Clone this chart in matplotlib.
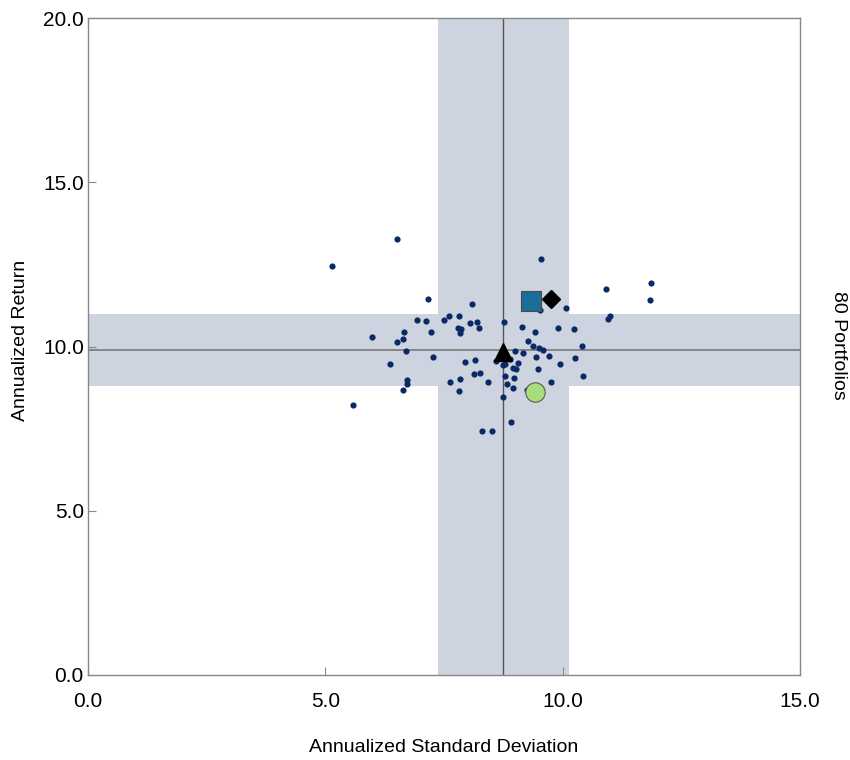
import matplotlib
matplotlib.use("Agg")
import matplotlib.pyplot as plt

# risk / return of each portfolio
std_dev = [5.14, 6.50, 7.17, 6.94, 7.13, 6.65, 7.22, 5.98, 6.63, 6.52,
           6.69, 7.27, 6.36, 6.73, 6.73, 6.64, 5.58, 8.08, 7.50, 7.60,
           7.82, 8.04, 8.19, 8.24, 7.79, 7.85, 7.84, 7.95, 8.15, 7.63,
           7.84, 8.13, 8.26, 8.42, 7.81, 8.31, 9.54, 10.92, 11.87, 11.85,
           10.08, 9.52, 10.95, 11.00, 8.76, 9.14, 9.42, 9.90, 10.24, 9.26,
           9.38, 9.50, 9.59, 10.41, 9.00, 9.16, 9.43, 9.72, 10.27, 8.59,
           8.74, 8.78, 9.06, 8.95, 9.01, 9.49, 9.95, 8.78, 8.97, 10.43,
           8.83, 8.95, 9.75, 9.25, 8.75, 8.92, 8.51, 8.89]
ann_return = [12.44, 13.28, 11.45, 10.80, 10.79, 10.45, 10.45, 10.29, 10.24, 10.13,
              9.87, 9.68, 9.47, 8.99, 8.86, 8.68, 8.23, 11.29, 10.81, 10.93,
              10.94, 10.72, 10.76, 10.56, 10.56, 10.52, 10.41, 9.53, 9.59, 8.91,
              9.01, 9.16, 9.18, 8.93, 8.65, 7.43, 12.66, 11.76, 11.93, 11.42,
              11.18, 11.12, 10.84, 10.94, 10.74, 10.58, 10.44, 10.55, 10.54, 10.17,
              10.01, 9.96, 9.90, 10.02, 9.85, 9.80, 9.69, 9.71, 9.66, 9.57,
              9.44, 9.47, 9.49, 9.34, 9.31, 9.32, 9.47, 9.10, 9.04, 9.09,
              8.87, 8.75, 8.93, 8.67, 8.46, 7.70, 7.42, 9.62]

# median lines and interquartile bands
med_std, med_ret = 8.74, 9.89
std_band = (7.37, 10.13)
ret_band = (8.80, 10.99)

# benchmark markers
square_pt = (9.33, 11.38)
diamond_pt = (9.75, 11.45)
triangle_pt = (8.74, 9.83)
circle_pt = (9.42, 8.61)

plt.rcParams['font.family'] = ['Liberation Sans', 'DejaVu Sans']

fig = plt.figure(figsize=(8.5, 7.6), dpi=100)
ax = fig.add_axes([88 / 850, 1 - 675 / 760, 712 / 850, 657 / 760])

band_color = '#cdd4df'
ax.axvspan(*std_band, color=band_color, lw=0, zorder=0)
ax.axhspan(*ret_band, color=band_color, lw=0, zorder=0)
ax.axvline(med_std, color='#555555', lw=1.0, zorder=1)
ax.axhline(med_ret, color='#808080', lw=1.3, zorder=1)

ax.scatter(std_dev, ann_return, s=20, color='#0a2a66', lw=0, zorder=3)

ax.plot(*square_pt, marker='s', ms=14, mfc='#1b6e9a', mec='#4a4a4a', mew=0.8, zorder=4)
ax.plot(*diamond_pt, marker='D', ms=9, mfc='black', mec='black', zorder=4)
ax.plot(*triangle_pt, marker='^', ms=13, mfc='black', mec='black', zorder=4)
ax.plot(*circle_pt, marker='o', ms=14, mfc='#a8de7a', mec='#5a5a5a', mew=0.8, zorder=4)

ax.set_xlim(0, 15)
ax.set_ylim(0, 20)
ax.set_xticks([0, 5, 10, 15])
ax.set_yticks([0, 5, 10, 15, 20])
ax.set_xticklabels(['0.0', '5.0', '10.0', '15.0'])
ax.set_yticklabels(['0.0', '5.0', '10.0', '15.0', '20.0'])
ax.tick_params(direction='in', length=6, color='#888888', labelsize=15)
ax.tick_params(axis='x', pad=12)
ax.tick_params(axis='y', pad=3)
for sp in ax.spines.values():
    sp.set_color('#888888')
    sp.set_linewidth(1.0)

# axis titles placed in figure coordinates
fig.text(444 / 850, 1 - 747 / 760, 'Annualized Standard Deviation', fontsize=14,
         ha='center', va='center')
fig.text(21 / 850, 1 - 340 / 760, 'Annualized Return', fontsize=14,
         rotation=90, ha='center', va='center')
fig.text(838 / 850, 1 - 345 / 760, '80 Portfolios', rotation=-90, fontsize=14,
         ha='center', va='center')

fig.savefig('out.png', dpi=100)
